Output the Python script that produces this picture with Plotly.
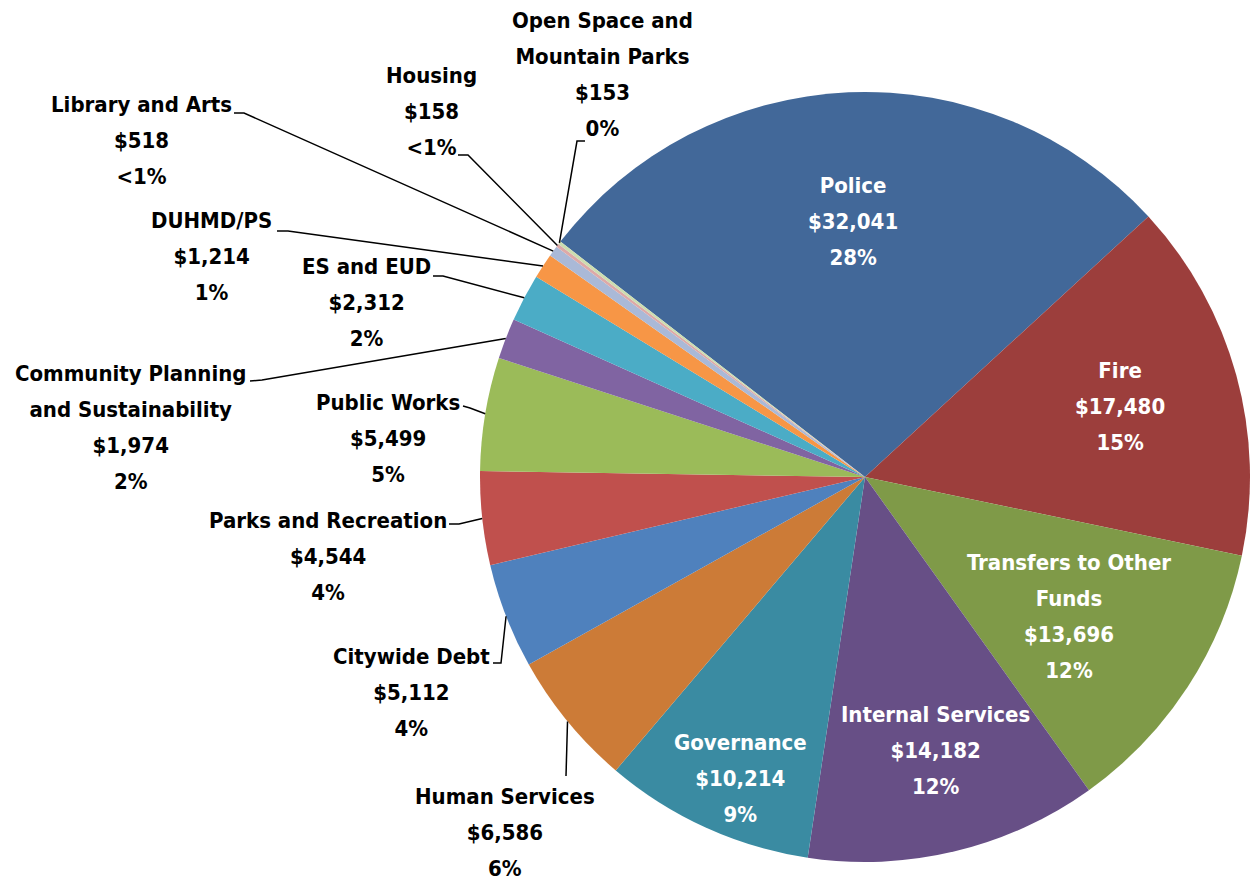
import math
import plotly.graph_objects as go

# ---------------- data ----------------
categories = [
    "Police", "Fire", "Transfers to Other Funds", "Internal Services", "Governance",
    "Human Services", "Citywide Debt", "Parks and Recreation", "Public Works",
    "Community Planning and Sustainability", "ES and EUD", "DUHMD/PS",
    "Library and Arts", "Housing", "Open Space and Mountain Parks",
]
label_names = [
    "Police", "Fire", "Transfers to Other<br>Funds", "Internal Services", "Governance",
    "Human Services", "Citywide Debt", "Parks and Recreation", "Public Works",
    "Community Planning<br>and Sustainability", "ES and EUD", "DUHMD/PS",
    "Library and Arts", "Housing", "Open Space and<br>Mountain Parks",
]
values = [32041, 17480, 13696, 14182, 10214, 6586, 5112, 4544, 5499, 1974, 2312, 1214, 518, 158, 153]
pct_labels = ["28%", "15%", "12%", "12%", "9%", "6%", "4%", "4%", "5%", "2%", "2%", "1%", "<1%", "<1%", "0%"]

colors = [
    "#426899", "#9C3E3C", "#7F9A48", "#674F86", "#3A8BA2", "#CC7B37",
    "#4F81BD", "#C0504D", "#9BBB59", "#8064A2", "#4BACC6", "#F79646",
    "#AAB9D7", "#DDA9A8", "#CCDDB0",
]
inside = [True, True, True, True, True, False, False, False, False, False, False, False, False, False, False]

# ---------------- layout (pixels) ----------------
W, H = 1252, 880
CX, CY, R = 865, 477, 385
ROT = -52.3
FS = 22          # glyph size
LINE_PX = 36     # line pitch
FONT = "DejaVu Sans Condensed, DejaVu Sans, sans-serif"

# label block centres (pixels)
label_pos = [
    (853, 221), (1120, 406), (1069, 616), (935, 750), (740, 778),
    (505, 832), (411, 692), (328, 556), (388, 439), (130, 427),
    (366, 303), (211, 256), (141, 141), (431, 112), (602, 74),
]
# leader-line points next to the label (pixels); slice end is added from data
leader_pts = [
    None, None, None, None, None,
    [(566, 776)],
    [(493, 663), (501, 663)],
    [(449, 524), (459, 524)],
    [(463, 406), (470, 408)],
    [(250, 381), (262, 380)],
    [(433, 276), (443, 276)],
    [(277, 231), (288, 231)],
    [(234, 113), (244, 113)],
    [(458, 155), (468, 155)],
    [(585, 141), (577, 141)],
]


def px(x):
    return x / W


def py(y):
    return 1 - y / H


fig = go.Figure(go.Pie(
    labels=categories,
    values=values,
    sort=False,
    direction="clockwise",
    rotation=ROT,
    marker=dict(colors=colors, line=dict(width=0)),
    textinfo="none",
    hoverinfo="label+value+percent",
    showlegend=False,
    domain=dict(x=[px(CX - R), px(CX + R)], y=[py(CY + R), py(CY - R)]),
))

total = sum(values)
cum = 0.0
annotations = []
shapes = []
for i, (name, v, pct) in enumerate(zip(label_names, values, pct_labels)):
    mid = math.radians(ROT + (cum + v / 2) / total * 360)
    cum += v
    sx = CX + R * math.sin(mid)
    sy = CY - R * math.cos(mid)

    lines = name.split("<br>") + ["${:,}".format(v), pct]
    txt = "<br>".join('<span style="font-size:%dpx">%s</span>' % (FS, l) for l in lines)
    lx, ly = label_pos[i]
    annotations.append(dict(
        x=px(lx), y=py(ly), xref="paper", yref="paper",
        xanchor="center", yanchor="middle", align="center",
        showarrow=False, text=txt,
        font=dict(family=FONT, size=LINE_PX / 1.3,
                  color="white" if inside[i] else "black", weight="bold"),
    ))
    if leader_pts[i]:
        pts = list(leader_pts[i]) + [(sx, sy)]
        path = "M " + " L ".join("%.5f,%.5f" % (px(a), py(b)) for a, b in pts)
        shapes.append(dict(type="path", xref="paper", yref="paper", path=path,
                           line=dict(color="black", width=1.5)))

fig.update_layout(
    width=W, height=H,
    margin=dict(l=0, r=0, t=0, b=0),
    paper_bgcolor="white", plot_bgcolor="white",
    annotations=annotations, shapes=shapes,
)

fig.write_html(
    "out.html",
    config={"displayModeBar": False},
    post_script="document.body.style.margin='0';document.body.style.overflow='hidden';",
)
